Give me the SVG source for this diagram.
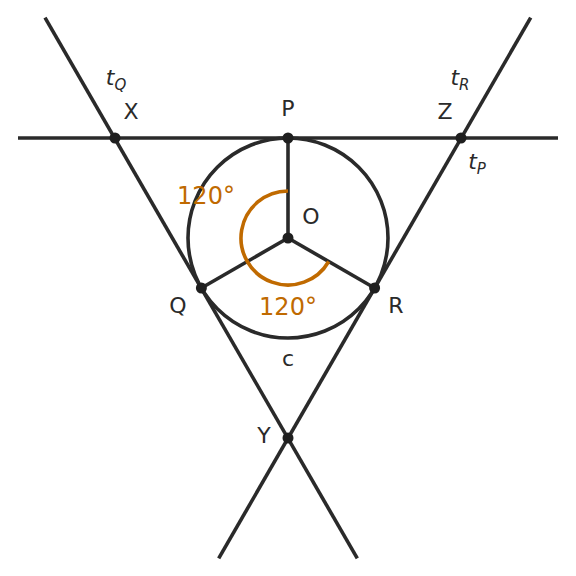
<svg xmlns="http://www.w3.org/2000/svg" width="576" height="576" viewBox="0 0 576 576">
<style>
.ln{stroke:#2a2a2a;stroke-width:3.6;fill:none;stroke-linecap:butt}
.dot{fill:#1f1f1f}
.lbl{font-family:"DejaVu Sans",sans-serif;font-size:22px;fill:#2a2a2a;text-anchor:middle}
.ang{font-family:"DejaVu Sans",sans-serif;font-size:24px;fill:#c06a00;text-anchor:middle}
.it{font-style:italic}
.sub{font-size:15px}
</style>
<rect width="576" height="576" fill="#fff"/>
<g id="connectors">
<line class="ln" x1="18" y1="138" x2="558" y2="138"/>
<line class="ln" x1="45" y1="17.6" x2="357.3" y2="558.4"/>
<line class="ln" x1="530.7" y1="17.6" x2="218.7" y2="558.4"/>
<circle class="ln" cx="288" cy="238" r="100"/>
<line class="ln" x1="288" y1="238" x2="288" y2="138"/>
<line class="ln" x1="288" y1="238" x2="201.4" y2="288"/>
<line class="ln" x1="288" y1="238" x2="374.6" y2="288"/>
<path d="M288 191 A47 47 0 1 0 328.7 261.5" fill="none" stroke="#c06a00" stroke-width="3.6"/>
</g>
<g id="O"><circle class="dot" cx="288" cy="238" r="5.5"/><text class="lbl" x="311" y="224">O</text></g>
<g id="P"><circle class="dot" cx="288" cy="138" r="5.5"/><text class="lbl" x="288" y="116">P</text></g>
<g id="Q"><circle class="dot" cx="201.4" cy="288" r="5.5"/><text class="lbl" x="178" y="313">Q</text></g>
<g id="R"><circle class="dot" cx="374.6" cy="288" r="5.5"/><text class="lbl" x="396" y="313">R</text></g>
<g id="X"><circle class="dot" cx="115" cy="138" r="5.5"/><text class="lbl" x="131" y="119">X</text></g>
<g id="Z"><circle class="dot" cx="461" cy="138" r="5.5"/><text class="lbl" x="445" y="119">Z</text></g>
<g id="Y"><circle class="dot" cx="288" cy="438" r="5.5"/><text class="lbl" x="264" y="443">Y</text></g>
<g id="c"><text class="lbl" x="288" y="366">c</text></g>
<g id="tQ"><text class="lbl it" x="116" y="85">t<tspan class="sub" dy="5">Q</tspan></text></g>
<g id="tR"><text class="lbl it" x="460" y="85">t<tspan class="sub" dy="5">R</tspan></text></g>
<g id="tP"><text class="lbl it" x="477" y="169">t<tspan class="sub" dy="5">P</tspan></text></g>
<g id="angle1"><text class="ang" x="206" y="204">120°</text></g>
<g id="angle2"><text class="ang" x="288" y="315">120°</text></g>
</svg>
